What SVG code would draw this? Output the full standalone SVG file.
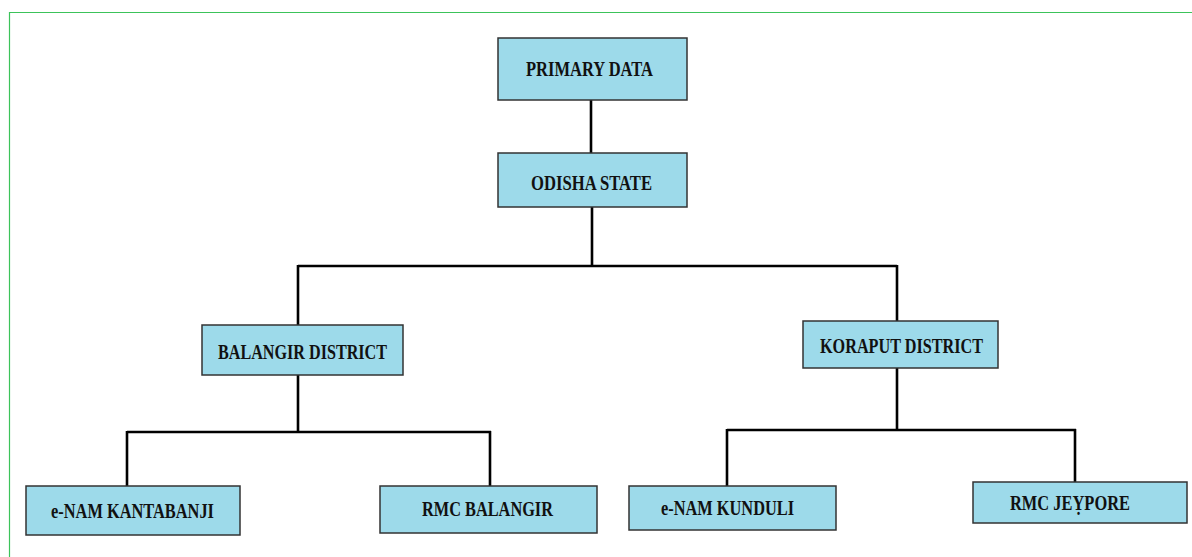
<svg xmlns="http://www.w3.org/2000/svg" width="1192" height="557" viewBox="0 0 1192 557">
<style>
.box{fill:#9DDAEA;stroke:#333;stroke-width:1.5}
.lbl{font-family:"Liberation Serif","Times New Roman",serif;font-weight:bold;font-size:20px;fill:#111}
.con{stroke:#000;stroke-width:2.6;fill:none}
</style>
<rect width="1192" height="557" fill="#fff"/>
<path d="M9.5 557 V12.5 H1192" fill="none" stroke="#3CC35A" stroke-width="1.2"/>
<g id="connectors">
<path class="con" d="M591 100 V153"/>
<path class="con" d="M592 207 V266 M298 266 H897 M298 265 V325 M897 265 V321"/>
<path class="con" d="M298 375 V432 M127 432 H491 M127 431 V486 M490 431 V486"/>
<path class="con" d="M897 368 V430 M727 430 H1076 M727 429 V486 M1075 429 V482"/>
</g>
<g id="primary"><rect class="box" x="498" y="38" width="189" height="62"/><text class="lbl" x="526" y="76" textLength="127" lengthAdjust="spacingAndGlyphs">PRIMARY DATA</text></g>
<g id="odisha"><rect class="box" x="498" y="153" width="189" height="54"/><text class="lbl" x="531" y="189.5" textLength="121" lengthAdjust="spacingAndGlyphs">ODISHA STATE</text></g>
<g id="balangir"><rect class="box" x="202" y="325" width="201" height="50"/><text class="lbl" x="218" y="359" textLength="169" lengthAdjust="spacingAndGlyphs">BALANGIR DISTRICT</text></g>
<g id="koraput"><rect class="box" x="803" y="321" width="195" height="47"/><text class="lbl" x="820" y="352.5" textLength="163" lengthAdjust="spacingAndGlyphs">KORAPUT DISTRICT</text></g>
<g id="kantabanji"><rect class="box" x="26" y="486" width="214" height="49"/><text class="lbl" x="51" y="518" textLength="163" lengthAdjust="spacingAndGlyphs">e-NAM KANTABANJI</text></g>
<g id="rmcbalangir"><rect class="box" x="380" y="486" width="217" height="47"/><text class="lbl" x="422" y="516" textLength="131" lengthAdjust="spacingAndGlyphs">RMC BALANGIR</text></g>
<g id="kunduli"><rect class="box" x="629" y="486" width="207" height="44"/><text class="lbl" x="661" y="515" textLength="133" lengthAdjust="spacingAndGlyphs">e-NAM KUNDULI</text></g>
<g id="jeypore"><rect class="box" x="973" y="482" width="214" height="41"/><text class="lbl" x="1010" y="510" textLength="120" lengthAdjust="spacingAndGlyphs">RMC JEỴPORE</text></g>
</svg>
